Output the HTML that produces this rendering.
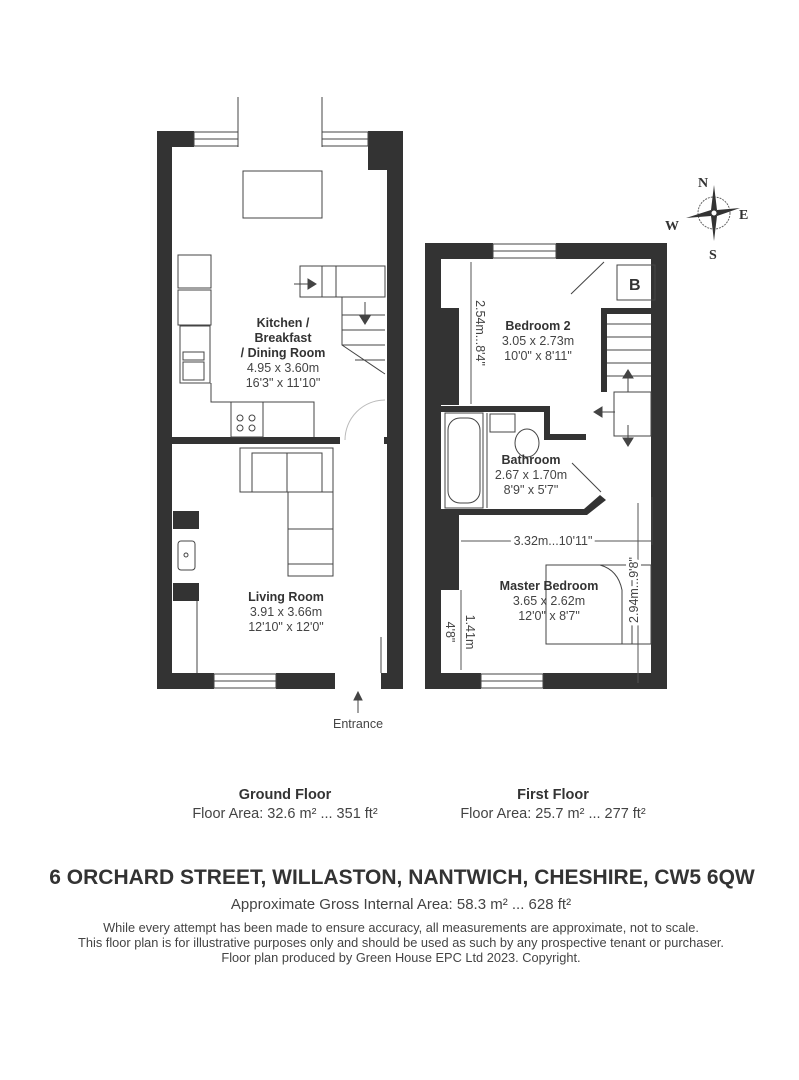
<!DOCTYPE html>
<html><head><meta charset="utf-8"><style>
html,body{margin:0;padding:0;background:#fff;}
svg{display:block}
text{font-family:"Liberation Sans",sans-serif;fill:#444}
.b{font-weight:bold;fill:#333}
</style></head><body>
<svg width="799" height="1080" viewBox="0 0 799 1080" xmlns="http://www.w3.org/2000/svg">
<g fill="#333">
<rect x="157" y="131" width="15" height="558"/>
<rect x="387" y="131" width="16" height="558"/>
<rect x="157" y="131" width="37" height="16"/>
<rect x="368" y="131" width="35" height="16"/>
<rect x="368" y="131" width="19" height="39"/>
<rect x="157" y="673" width="57" height="16"/>
<rect x="276" y="673" width="59" height="16"/>
<rect x="381" y="673" width="22" height="16"/>
<rect x="172" y="437" width="168" height="7"/>
<rect x="384" y="437" width="3" height="7"/>
<rect x="173" y="511" width="26" height="18"/>
<rect x="173" y="583" width="26" height="18"/>
<rect x="425" y="243" width="16" height="446"/>
<rect x="651" y="243" width="16" height="446"/>
<rect x="425" y="243" width="68" height="16"/>
<rect x="556" y="243" width="111" height="16"/>
<rect x="425" y="673" width="56" height="16"/>
<rect x="543" y="673" width="124" height="16"/>
<rect x="441" y="308" width="18" height="97"/>
<rect x="441" y="515" width="18" height="75"/>
<rect x="441" y="406" width="109" height="6"/>
<rect x="544" y="406" width="6" height="34"/>
<rect x="544" y="434" width="42" height="6"/>
<rect x="601" y="308" width="50" height="6"/>
<rect x="601" y="308" width="6" height="84"/>
<polygon points="441,509 584,509 600,495 606,500 587,515 441,515"/>
</g>
<g fill="none" stroke="#444" stroke-width="1">
<rect x="194" y="132" width="44" height="14"/><line x1="194" y1="139" x2="238" y2="139"/>
<rect x="322" y="132" width="46" height="14"/><line x1="322" y1="139" x2="368" y2="139"/>
<line x1="238" y1="97" x2="238" y2="147"/><line x1="322" y1="97" x2="322" y2="147"/>
<rect x="214" y="674" width="62" height="14"/><line x1="214" y1="681" x2="276" y2="681"/>
<rect x="243" y="171" width="79" height="47"/>
<rect x="178" y="255" width="33" height="33"/>
<rect x="178" y="290" width="33" height="35"/>
<rect x="180" y="326" width="30" height="57"/>
<rect x="183" y="352" width="21" height="8"/><rect x="183" y="362" width="21" height="18"/>
<polyline points="211,383 211,402 314,402 314,437"/>
<rect x="231" y="402" width="32" height="35"/>
<circle cx="240" cy="418" r="3"/><circle cx="252" cy="418" r="3"/><circle cx="240" cy="428" r="3"/><circle cx="252" cy="428" r="3"/>
<rect x="300" y="266" width="85" height="31"/>
<line x1="322" y1="266" x2="322" y2="297"/><line x1="336" y1="266" x2="336" y2="297"/>
<polyline points="342,297 342,345 385,374"/>
<line x1="342" y1="315" x2="385" y2="315"/><line x1="342" y1="330" x2="385" y2="330"/><line x1="342" y1="345" x2="385" y2="345"/><line x1="355" y1="360" x2="385" y2="360"/>
<path d="M385 400 A40 40 0 0 0 345 440" stroke="#bbb"/>
<rect x="240" y="448" width="93" height="44"/><rect x="252" y="453" width="70" height="39"/><line x1="287" y1="453" x2="287" y2="492"/>
<rect x="288" y="492" width="45" height="84"/><line x1="288" y1="529" x2="333" y2="529"/><line x1="288" y1="564" x2="333" y2="564"/>
<rect x="178" y="541" width="17" height="29" rx="3"/><circle cx="186" cy="555" r="2"/>
<line x1="197" y1="601" x2="197" y2="673"/>
<line x1="381" y1="637" x2="381" y2="673"/>
<rect x="493" y="244" width="63" height="14"/><line x1="493" y1="251" x2="556" y2="251"/>
<rect x="481" y="674" width="62" height="14"/><line x1="481" y1="681" x2="543" y2="681"/>
<line x1="571" y1="294" x2="604" y2="262"/>
<rect x="617" y="265" width="38" height="35"/>
<line x1="607" y1="324" x2="651" y2="324"/><line x1="607" y1="337" x2="651" y2="337"/><line x1="607" y1="350" x2="651" y2="350"/><line x1="607" y1="363" x2="651" y2="363"/><line x1="607" y1="376" x2="651" y2="376"/>
<rect x="614" y="392" width="37" height="44"/>
<rect x="445" y="413" width="38" height="95"/><rect x="448" y="418" width="32" height="85" rx="12"/>
<line x1="487" y1="413" x2="487" y2="508"/>
<rect x="490" y="414" width="25" height="18"/>
<ellipse cx="527" cy="443" rx="12" ry="14"/>
<line x1="572" y1="463" x2="601" y2="492"/>
<line x1="652" y1="497" x2="652" y2="545"/>
<rect x="546" y="565" width="105" height="79"/>
<line x1="632" y1="565" x2="632" y2="644"/>
<path d="M600 565 Q618 570 622 590 L622 644"/>
</g>
<g fill="#444" stroke="#444" stroke-width="1">
<line x1="294" y1="284" x2="308" y2="284"/><polygon points="308,279 316,284 308,289"/>
<line x1="365" y1="302" x2="365" y2="316"/><polygon points="360,316 365,324 370,316"/>
<line x1="628" y1="392" x2="628" y2="378"/><polygon points="623,378 628,370 633,378"/>
<line x1="615" y1="412" x2="602" y2="412"/><polygon points="602,407 594,412 602,417"/>
<line x1="628" y1="425" x2="628" y2="438"/><polygon points="623,438 628,446 633,438"/>
<line x1="358" y1="713" x2="358" y2="698"/><polygon points="354,700 358,692 362,700"/>
</g>
<g stroke="#555" stroke-width="1" fill="none">
<line x1="471" y1="262" x2="471" y2="404"/>
<line x1="461" y1="541" x2="651" y2="541"/>
<line x1="461" y1="590" x2="461" y2="670"/>
<line x1="638" y1="503" x2="638" y2="683"/>
</g>
<g transform="translate(714,213)">
<circle r="16" fill="none" stroke="#666" stroke-dasharray="2,1"/>
<polygon points="0,-28 3,-3 0,0 -3,-3" fill="#333"/>
<polygon points="0,28 3,3 0,0 -3,3" fill="#333"/>
<polygon points="-28,5 -3,-3 0,0 -3,3" fill="#333"/>
<polygon points="26,-5 3,-3 0,0 3,3" fill="#333"/>
<circle r="3" fill="#fff" stroke="#333"/>
</g>
<g font-weight="bold" font-size="14">
<text x="698" y="187" style="font-family:'Liberation Serif',serif;fill:#333">N</text>
<text x="739" y="219" style="font-family:'Liberation Serif',serif;fill:#333">E</text>
<text x="665" y="230" style="font-family:'Liberation Serif',serif;fill:#333">W</text>
<text x="709" y="259" style="font-family:'Liberation Serif',serif;fill:#333">S</text>
</g>
<text x="629" y="290" class="b" font-size="16">B</text>
<g font-size="12.5" text-anchor="middle">
<text x="283" y="327" class="b">Kitchen /</text>
<text x="283" y="342" class="b">Breakfast</text>
<text x="283" y="357" class="b">/ Dining Room</text>
<text x="283" y="372">4.95 x 3.60m</text>
<text x="283" y="387">16'3" x 11'10"</text>
<text x="286" y="601" class="b">Living Room</text>
<text x="286" y="616">3.91 x 3.66m</text>
<text x="286" y="631">12'10" x 12'0"</text>
<text x="538" y="330" class="b">Bedroom 2</text>
<text x="538" y="345">3.05 x 2.73m</text>
<text x="538" y="360">10'0" x 8'11"</text>
<text x="531" y="464" class="b">Bathroom</text>
<text x="531" y="479">2.67 x 1.70m</text>
<text x="531" y="494">8'9" x 5'7"</text>
<text x="549" y="590" class="b">Master Bedroom</text>
<text x="549" y="605">3.65 x 2.62m</text>
<text x="549" y="620">12'0" x 8'7"</text>
<text x="553" y="545" style="paint-order:stroke;stroke:#fff;stroke-width:6px">3.32m...10'11"</text>
<text x="358" y="728">Entrance</text>
<text transform="translate(476,333) rotate(90)" style="paint-order:stroke;stroke:#fff;stroke-width:6px">2.54m...8'4"</text>
<text transform="translate(638,590) rotate(-90)" style="paint-order:stroke;stroke:#fff;stroke-width:6px">2.94m...9'8"</text>
<text transform="translate(466,632) rotate(90)" style="paint-order:stroke;stroke:#fff;stroke-width:6px">1.41m</text>
<text transform="translate(446,632) rotate(90)">4'8"</text>
</g>
<g text-anchor="middle">
<text x="285" y="799" class="b" font-size="14.5">Ground Floor</text>
<text x="285" y="818" font-size="14.5">Floor Area: 32.6 m² ... 351 ft²</text>
<text x="553" y="799" class="b" font-size="14.5">First Floor</text>
<text x="553" y="818" font-size="14.5">Floor Area: 25.7 m² ... 277 ft²</text>
<text x="402" y="884" class="b" font-size="21">6 ORCHARD STREET, WILLASTON, NANTWICH, CHESHIRE, CW5 6QW</text>
<text x="401" y="909" font-size="15">Approximate Gross Internal Area: 58.3 m² ... 628 ft²</text>
<text x="401" y="932" font-size="12.8">While every attempt has been made to ensure accuracy, all measurements are approximate, not to scale.</text>
<text x="401" y="947" font-size="12.8">This floor plan is for illustrative purposes only and should be used as such by any prospective tenant or purchaser.</text>
<text x="401" y="962" font-size="12.8">Floor plan produced by Green House EPC Ltd 2023. Copyright.</text>
</g>
</svg>
</body></html>
